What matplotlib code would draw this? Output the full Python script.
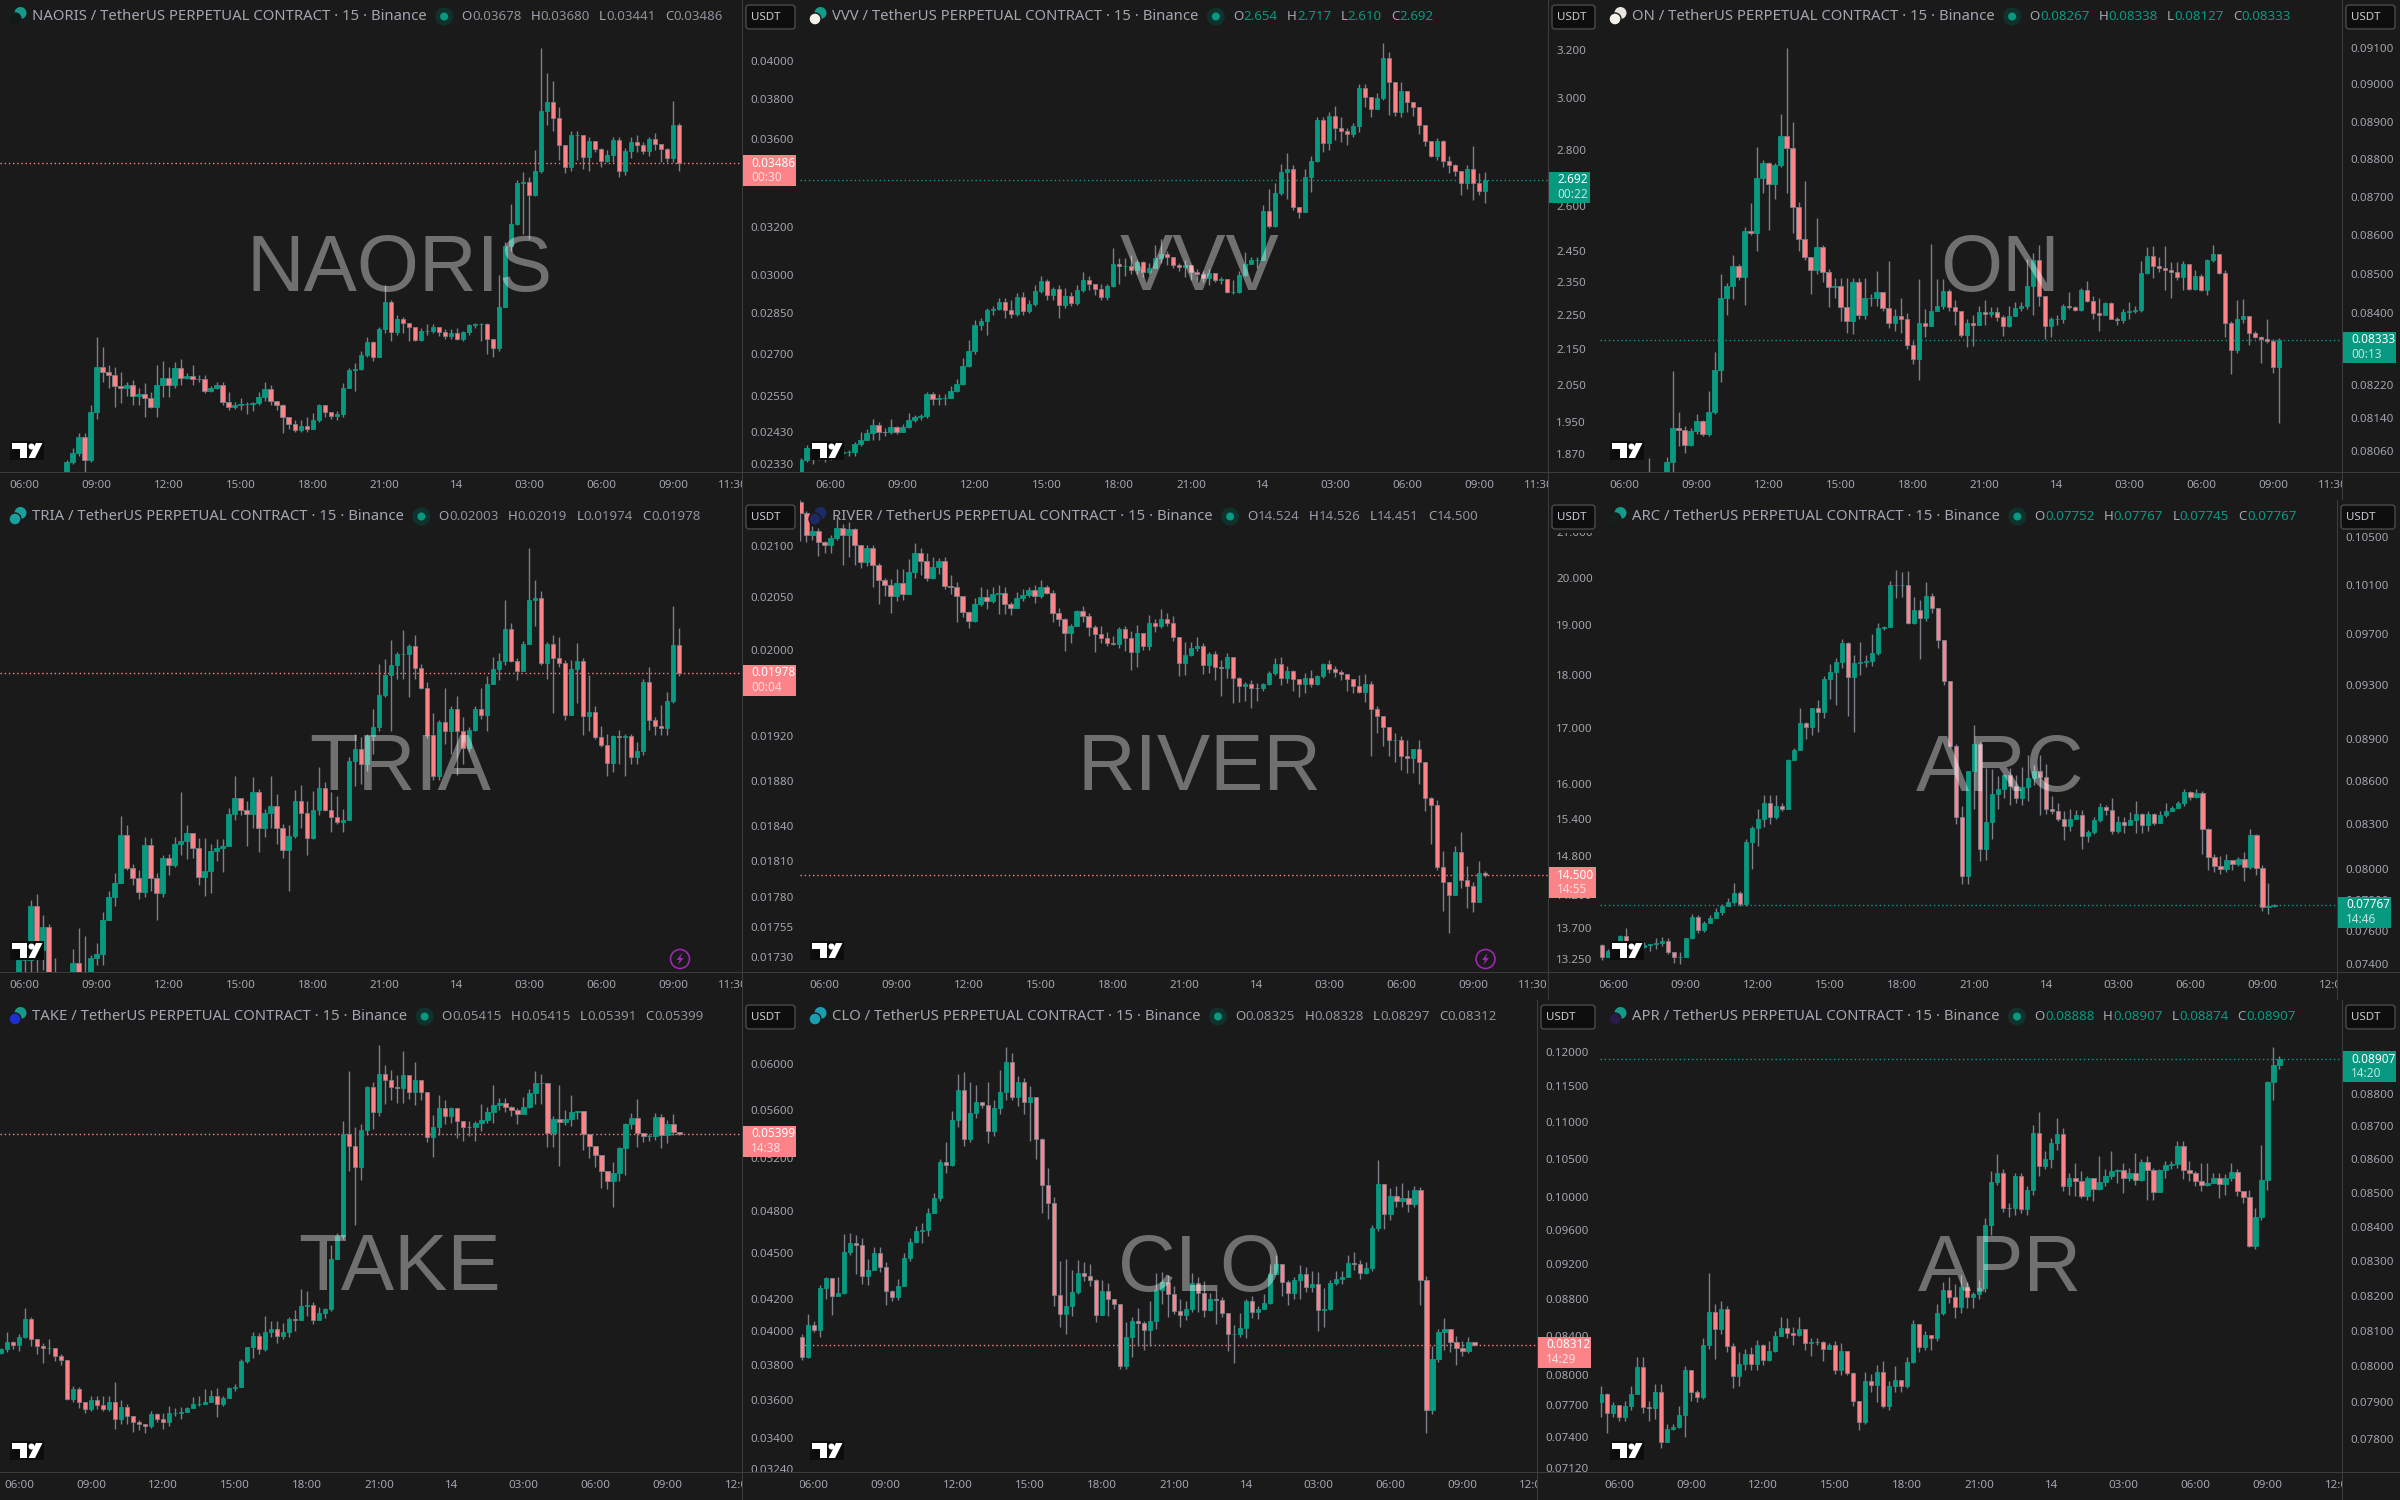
import numpy as np
import matplotlib
matplotlib.use("Agg")
import matplotlib.pyplot as plt
from matplotlib.patches import Rectangle, Circle, Polygon, FancyBboxPatch
from matplotlib.transforms import Affine2D, Bbox
from matplotlib.ticker import NullLocator, NullFormatter

# closes start with the open of the first candle, so opens = previous close
# prices are in whole units of the last shown digit
naoris_close = [2290,
    2334,2365,2416,2340,2496,2654,2635,2623,2584,2580,
    2590,2552,2558,2543,2515,2590,2614,2590,2650,2614,
    2622,2610,2610,2570,2578,2590,2532,2513,2520,2525,
    2525,2527,2549,2574,2535,2520,2480,2458,2438,2452,
    2442,2472,2519,2497,2485,2491,2580,2643,2647,2695,
    2741,2690,2790,2895,2781,2830,2815,2800,2750,2783,
    2783,2800,2780,2765,2775,2755,2779,2805,2808,2810,
    2755,2720,2875,3120,3215,3397,3400,3340,3452,3740,
    3785,3705,3570,3470,3620,3620,3515,3590,3555,3495,
    3525,3595,3452,3543,3585,3570,3545,3600,3575,3555,
    3510,3670,3486]
naoris_high = [
    2340,2378,2427,2427,2519,2760,2724,2660,2654,2635,
    2600,2605,2580,2595,2565,2660,2673,2654,2672,2680,
    2630,2660,2625,2625,2585,2600,2600,2565,2530,2545,
    2530,2530,2565,2600,2590,2530,2525,2480,2470,2470,
    2480,2495,2525,2505,2495,2500,2595,2650,2665,2710,
    2760,2745,2800,2960,2900,2845,2835,2810,2790,2795,
    2810,2810,2800,2790,2790,2795,2785,2810,2815,2815,
    2815,2755,3000,3135,3300,3410,3445,3420,3550,4070,
    3935,3890,3760,3530,3640,3640,3620,3610,3575,3560,
    3550,3610,3610,3560,3610,3620,3585,3610,3630,3570,
    3560,3790,3680]
naoris_low = [
    2280,2330,2355,2305,2335,2475,2598,2580,2515,2528,
    2550,2522,2522,2480,2512,2482,2548,2548,2580,2590,
    2610,2590,2600,2560,2565,2575,2520,2505,2508,2505,
    2490,2500,2520,2535,2522,2505,2427,2440,2432,2432,
    2430,2445,2465,2480,2475,2470,2480,2580,2570,2640,
    2690,2675,2690,2775,2745,2770,2775,2745,2745,2745,
    2770,2775,2765,2755,2755,2750,2745,2770,2795,2745,
    2700,2690,2710,2880,3100,3210,3170,3150,3335,3440,
    3670,3640,3500,3440,3450,3500,3460,3450,3540,3470,
    3490,3490,3420,3430,3510,3540,3530,3520,3550,3490,
    3490,3490,3450]

vvv_close = [1824,
    1854,1885,1858,1884,1862,1862,1872,1873,1873,1894,
    1905,1923,1944,1926,1924,1938,1924,1938,1957,1963,
    1965,2024,2011,2013,2015,2032,2052,2102,2144,2219,
    2232,2264,2266,2288,2264,2252,2304,2262,2282,2322,
    2352,2310,2327,2280,2308,2286,2325,2357,2343,2329,
    2303,2337,2407,2400,2400,2387,2414,2383,2394,2425,
    2440,2428,2403,2396,2403,2380,2375,2362,2377,2357,
    2358,2318,2320,2373,2408,2419,2420,2583,2532,2644,
    2719,2731,2597,2580,2703,2759,2914,2827,2930,2884,
    2872,2860,2891,3041,3005,2960,3000,3165,3067,2948,
    3030,2986,2965,2895,2836,2780,2834,2762,2745,2725,
    2682,2730,2682,2654,2692]
vvv_high = [
    1860,1893,1890,1890,1875,1870,1876,1880,1878,1900,
    1925,1932,1958,1950,1935,1958,1940,1945,1975,1970,
    1972,2030,2030,2025,2025,2045,2065,2125,2175,2235,
    2240,2270,2275,2300,2300,2295,2315,2320,2295,2340,
    2370,2360,2335,2340,2330,2320,2340,2380,2370,2345,
    2345,2345,2460,2425,2425,2435,2420,2415,2410,2470,
    2490,2450,2420,2410,2420,2400,2390,2385,2390,2375,
    2365,2340,2355,2385,2445,2430,2430,2605,2660,2680,
    2750,2790,2745,2590,2730,2780,2925,2925,2945,2970,
    2925,2885,2905,3060,3060,3005,3020,3230,3190,3065,
    3065,3015,2985,2905,2875,2820,2845,2840,2780,2750,
    2725,2745,2815,2715,2720]
vvv_low = [
    1820,1850,1845,1855,1850,1855,1860,1868,1865,1865,
    1890,1905,1905,1905,1915,1920,1920,1925,1935,1950,
    1955,1960,1995,1995,1995,2015,2030,2050,2100,2135,
    2205,2190,2250,2265,2240,2240,2245,2250,2255,2275,
    2315,2295,2295,2240,2270,2275,2280,2320,2325,2310,
    2295,2295,2335,2345,2370,2375,2375,2365,2375,2395,
    2410,2405,2395,2385,2365,2355,2355,2350,2340,2350,
    2345,2315,2312,2315,2370,2410,2395,2420,2525,2530,
    2640,2625,2585,2560,2590,2650,2755,2795,2800,2840,
    2830,2820,2850,2870,2965,2925,2960,2995,2935,2930,
    2925,2945,2930,2860,2815,2775,2765,2740,2715,2705,
    2640,2660,2620,2640,2610]

on_close = [7970,
    7990,7990,7995,8032,8115,8111,8073,8107,8131,8100,
    8153,8258,8440,8470,8521,8492,8611,8605,8750,8790,
    8733,8783,8860,8830,8673,8590,8545,8510,8570,8505,
    8466,8470,8417,8380,8481,8397,8440,8440,8455,8413,
    8377,8393,8385,8320,8285,8375,8367,8405,8418,8456,
    8415,8407,8345,8377,8371,8403,8398,8403,8390,8367,
    8393,8413,8420,8470,8537,8443,8368,8385,8385,8420,
    8417,8408,8460,8432,8402,8397,8427,8387,8383,8403,
    8405,8408,8503,8547,8520,8515,8510,8506,8492,8525,
    8461,8495,8459,8537,8552,8502,8377,8308,8385,8393,
    8350,8340,8335,8330,8265,8333]
on_high = [
    8043,8005,8000,8045,8255,8153,8120,8115,8150,8135,
    8207,8302,8500,8478,8550,8525,8622,8683,8832,8797,
    8792,8790,8920,9100,8898,8687,8743,8528,8645,8575,
    8512,8490,8490,8490,8490,8490,8490,8450,8507,8445,
    8535,8410,8440,8400,8330,8487,8412,8577,8487,8487,
    8462,8435,8407,8385,8395,8420,8435,8415,8415,8395,
    8420,8430,8430,8540,8555,8575,8445,8390,8395,8425,
    8455,8420,8465,8483,8445,8440,8430,8430,8390,8410,
    8430,8420,8535,8570,8572,8545,8572,8530,8530,8535,
    8470,8510,8500,8540,8575,8505,8510,8380,8435,8437,
    8393,8355,8342,8385,8335,8338]
on_low = [
    7960,7960,7970,7990,8006,8070,8055,8071,8100,8095,
    8095,8150,8228,8395,8437,8485,8422,8600,8560,8710,
    8615,8695,8780,8710,8606,8560,8537,8450,8500,8480,
    8417,8440,8380,8350,8348,8387,8387,8420,8420,8405,
    8362,8355,8350,8310,8272,8232,8340,8370,8405,8410,
    8405,8370,8340,8315,8318,8370,8370,8390,8380,8343,
    8365,8400,8405,8410,8395,8420,8335,8340,8370,8375,
    8410,8405,8405,8430,8385,8355,8395,8385,8370,8375,
    8385,8400,8403,8500,8490,8505,8460,8440,8485,8460,
    8459,8459,8457,8447,8530,8500,8340,8248,8300,8375,
    8320,8337,8275,8325,8250,8127]

tria_close = [1700,
    1728,1728,1772,1736,1755,1715,1705,1700,1700,1725,
    1712,1710,1729,1733,1761,1780,1792,1833,1804,1796,
    1784,1824,1796,1783,1813,1807,1825,1827,1834,1821,
    1797,1802,1819,1821,1823,1851,1865,1854,1851,1870,
    1839,1852,1858,1839,1820,1832,1862,1852,1830,1854,
    1874,1854,1848,1844,1846,1898,1908,1895,1920,1928,
    1958,1976,1985,1996,1996,2003,1983,1964,1921,1884,
    1933,1925,1945,1925,1909,1926,1945,1939,1968,1982,
    1989,2019,1989,1980,2005,2047,2049,1987,2005,1992,
    1987,1939,1982,1989,1938,1942,1919,1912,1896,1920,
    1919,1920,1901,1907,1970,1935,1929,1927,1952,2004,
    1978]
tria_high = [
    1735,1735,1777,1782,1765,1757,1729,1710,1710,1737,
    1754,1747,1732,1742,1767,1785,1800,1849,1841,1808,
    1803,1831,1830,1800,1815,1816,1831,1870,1841,1826,
    1830,1830,1825,1829,1829,1856,1884,1865,1862,1883,
    1873,1855,1884,1868,1842,1841,1872,1876,1862,1871,
    1892,1879,1870,1867,1855,1901,1922,1919,1922,1945,
    1986,1991,2009,1998,2018,2005,2014,1986,1970,1941,
    1935,1964,1947,1957,1937,1928,1947,1964,1975,1993,
    1997,2047,2025,1992,2008,2098,2067,2056,2007,2014,
    2012,1990,1990,2006,1992,1976,1947,1929,1922,1921,
    1926,1922,1922,1915,1972,1984,1937,1948,1960,2041,
    2020]
tria_low = [
    1690,1700,1705,1700,1720,1690,1695,1690,1690,1700,
    1700,1695,1700,1724,1724,1770,1772,1793,1803,1790,
    1778,1780,1785,1761,1780,1798,1805,1815,1812,1813,
    1790,1781,1783,1810,1801,1823,1846,1850,1823,1839,
    1818,1831,1839,1825,1813,1785,1830,1839,1815,1829,
    1850,1853,1835,1842,1835,1846,1875,1877,1889,1904,
    1925,1956,1925,1972,1972,1956,1972,1963,1918,1881,
    1881,1913,1904,1885,1895,1907,1925,1936,1925,1968,
    1971,1985,1988,1971,1980,2005,2022,1985,1972,1941,
    1984,1935,1939,1950,1921,1925,1917,1910,1884,1888,
    1895,1884,1895,1895,1903,1926,1921,1921,1921,1950,
    1975]

river_close = [21700,
    21440,20950,21040,20780,20710,20870,21100,20940,21090,20710,
    20340,20660,20270,19940,19845,19600,19880,19650,20120,20530,
    20360,20000,20240,20370,19810,19800,19600,19280,19085,19440,
    19580,19510,19640,19670,19430,19360,19560,19620,19740,19600,
    19800,19680,19260,19130,18840,18990,19290,19180,18960,18810,
    18730,18630,18620,18910,18730,18460,18830,18580,19050,18980,
    19120,19035,18750,18240,18400,18540,18580,18200,18420,18160,
    18140,18360,17940,17790,17825,17760,17755,17820,18050,18210,
    17940,18090,17920,17820,17940,17820,17990,18220,18110,18070,
    18025,17925,17790,17680,17820,17360,17220,17010,16790,16790,
    16500,16460,16610,16390,15770,15640,14630,14400,14200,14870,
    14420,14330,14080,14530,14500]
river_high = [
    21750,21500,21150,21100,20800,20950,21350,21200,21250,21100,
    20720,20720,20720,20320,19990,19960,20190,20180,20400,20770,
    20650,20550,20450,20430,20450,20050,19900,19600,19300,19570,
    19800,19760,19800,19850,19790,19480,19700,19750,19800,19850,
    19950,19850,19730,19350,19150,19030,19320,19400,19250,19000,
    18990,18850,18780,18970,18980,18870,19000,18840,19200,19130,
    19330,19250,19180,18690,18650,18650,18760,18640,18460,18480,
    18300,18430,18340,17960,17860,17900,17840,17850,18090,18330,
    18350,18180,18100,17930,18050,18100,18000,18240,18290,18180,
    18100,17980,17930,18000,18020,17880,17400,17220,16900,16900,
    16850,16780,16620,16780,16380,15780,15720,14880,14350,14970,
    15200,14650,14400,14720,14560]
river_low = [
    20800,20780,20840,20480,20550,20530,20830,20280,20450,20280,
    20200,20260,19800,19440,19600,19250,19500,19530,19650,20000,
    20050,19930,19970,20070,19750,19650,19060,19160,18950,19060,
    19400,19340,19450,19230,19230,19200,19350,19500,19580,19450,
    19560,19650,19060,18980,18470,18630,18980,19060,18780,18450,
    18630,18570,18600,18540,18480,18100,18150,18500,18500,18850,
    18950,18980,18680,17980,18000,18380,18470,18020,18050,17900,
    17600,17950,17470,17480,17500,17380,17500,17700,17800,18000,
    17800,17850,17700,17570,17650,17780,17800,17950,18050,17970,
    17900,17700,17650,17650,17480,16490,16900,16680,16500,16390,
    16250,16200,16200,16000,15540,15000,14580,13950,13620,14380,
    14300,14000,13930,14450,14470]

arc_close = [7515,
    7440,7475,7485,7568,7520,7510,7500,7515,7518,7526,
    7537,7472,7440,7442,7555,7692,7605,7650,7680,7718,
    7760,7782,7840,7770,8180,8270,8335,8440,8345,8425,
    8400,8750,8820,9013,8990,9130,9100,9350,9400,9480,
    9632,9360,9470,9480,9487,9550,9750,9752,10095,10100,
    10100,9790,9893,9830,10005,9907,9650,9330,8850,8345,
    7950,8665,8860,8130,8310,8505,8540,8640,8560,8480,
    8555,8615,8670,8625,8400,8385,8335,8285,8335,8360,
    8220,8245,8325,8415,8395,8255,8315,8290,8325,8370,
    8290,8365,8305,8360,8385,8410,8440,8520,8485,8515,
    8265,8080,8020,8000,8055,8030,8065,8010,8225,8008,
    7755,7757,7767]
arc_high = [
    7520,7490,7500,7575,7620,7540,7520,7535,7522,7555,
    7565,7555,7450,7470,7560,7710,7705,7665,7700,7745,
    7775,7810,7905,7855,8200,8285,8405,8500,8500,8500,
    8440,8755,8835,9125,9025,9130,9185,9370,9465,9510,
    9660,9640,9530,9640,9535,9700,9790,9765,10130,10220,
    10205,10210,10000,9970,10125,10030,9700,9600,9190,8860,
    8420,8670,9000,8880,8690,8680,8630,8650,8690,8640,
    8700,8780,8710,8780,8720,8490,8440,8390,8400,8395,
    8395,8260,8345,8440,8430,8480,8355,8350,8380,8460,
    8375,8385,8375,8385,8445,8420,8455,8540,8530,8540,
    8530,8275,8100,8085,8100,8060,8075,8110,8265,8230,
    8025,7905,7775]
arc_low = [
    7420,7440,7450,7500,7510,7490,7490,7495,7480,7490,
    7510,7460,7405,7400,7440,7550,7590,7595,7650,7680,
    7700,7760,7770,7760,7760,8000,8150,8280,8300,8330,
    8390,8400,8750,8880,8900,8925,8950,9050,9195,9150,
    9435,9070,8950,9380,9440,9450,9530,9730,9760,9990,
    10000,9780,9780,9500,9800,9870,9590,9300,8840,8300,
    7900,7900,8400,8050,8055,8200,8400,8480,8430,8440,
    8430,8460,8570,8360,8370,8370,8320,8190,8250,8340,
    8130,8180,8230,8310,8360,8230,8240,8240,8290,8240,
    8240,8250,8290,8310,8350,8395,8420,8425,8465,8480,
    8100,7990,7980,7965,7980,7990,8020,7920,8000,7960,
    7730,7710,7750]

take_close = [3866,
    3890,3933,3913,3960,4070,3950,3906,3895,3896,3848,
    3826,3608,3660,3587,3550,3600,3575,3553,3591,3500,
    3565,3513,3480,3470,3460,3522,3500,3482,3530,3530,
    3535,3558,3580,3580,3590,3625,3578,3612,3668,3670,
    3820,3900,3970,3890,3995,4010,3970,3990,4070,4068,
    4155,4160,4065,4113,4135,4460,4620,5399,5295,5130,
    5433,5800,5580,5915,5855,5795,5785,5900,5750,5860,
    5750,5373,5455,5610,5545,5610,5503,5452,5450,5490,
    5510,5582,5640,5660,5622,5595,5565,5625,5740,5835,
    5835,5403,5520,5498,5520,5582,5585,5399,5295,5230,
    5100,5020,5085,5280,5475,5530,5405,5380,5380,5535,
    5385,5475,5410,5399]
take_high = [
    3895,3990,3940,3980,4140,4085,3950,3925,3950,3880,
    3860,3826,3680,3670,3580,3625,3625,3625,3620,3700,
    3600,3580,3515,3490,3470,3540,3530,3530,3570,3555,
    3560,3565,3615,3620,3660,3655,3665,3625,3675,3690,
    3830,3905,3990,3985,4090,4060,4060,4045,4085,4130,
    4260,4250,4180,4150,4140,4560,4640,5500,5940,5450,
    5480,5805,5840,6180,5990,5950,5900,6120,5890,6020,
    5770,5750,5555,5730,5680,5620,5590,5480,5500,5500,
    5650,5620,5810,5700,5700,5630,5610,5710,5780,5940,
    5910,5830,5550,5810,5600,5730,5590,5590,5340,5265,
    5160,5040,5170,5290,5490,5570,5690,5400,5400,5570,
    5560,5510,5560,5410]
take_low = [
    3860,3875,3890,3880,3955,3910,3860,3810,3860,3820,
    3800,3600,3590,3555,3530,3540,3550,3540,3540,3445,
    3470,3470,3430,3440,3425,3450,3480,3445,3460,3515,
    3500,3545,3555,3570,3580,3590,3510,3570,3610,3650,
    3670,3810,3840,3860,3880,3960,3925,3950,3965,4000,
    4065,4090,4040,4070,4080,4125,4460,4600,5100,4700,
    5030,5390,5440,5550,5650,5680,5660,5660,5690,5640,
    5680,5330,5210,5390,5480,5490,5360,5340,5380,5340,
    5420,5490,5490,5600,5580,5550,5480,5560,5615,5650,
    5650,5290,5290,5140,5470,5460,5520,5270,5200,5130,
    4970,4960,4830,5020,5070,5440,5290,5330,5340,5350,
    5280,5320,5390,5390]

clo_close = [8395,
    8180,8520,8465,8923,9035,8835,8865,9340,9440,9420,
    9065,9130,9320,9165,8895,8820,8950,9265,9455,9590,
    9600,9810,9990,10455,10420,11025,11440,10760,11115,11275,
    11235,10875,11185,11415,11860,11350,11560,11270,11350,10760,
    10155,9925,8850,8635,8725,8880,9090,9065,9010,8625,
    8890,8800,8750,8095,8395,8560,8535,8460,8565,8905,
    8995,8860,8665,8625,8690,8975,8865,8685,8800,8790,
    8650,8420,8425,8490,8775,8660,8695,8755,9085,9195,
    8995,8870,9015,9080,8935,8965,8680,8690,8985,9020,
    9045,9205,9200,9095,9155,9625,10170,9790,10020,9950,
    9995,9915,10095,9010,7660,8165,8440,8480,8340,8280,
    8240,8335,8312]
clo_high = [
    8420,8640,8560,8960,9050,9040,9050,9550,9560,9540,
    9500,9260,9400,9400,9220,8900,9020,9330,9500,9650,
    9680,9870,10050,10500,10720,11150,11680,11700,11560,11520,
    11280,11560,11300,11740,12080,11990,11650,11620,11500,11000,
    10770,10370,10000,9230,9250,9130,9240,9220,9200,9020,
    9010,8980,8800,8430,8550,8600,8700,8560,8780,9090,
    9110,9070,8950,8800,8780,9090,9050,9000,8870,8900,
    8820,8560,8520,8650,8800,8840,8720,8860,9200,9300,
    9190,9010,9050,9180,9160,9120,9110,8920,9010,9120,
    9120,9300,9340,9240,9220,9660,10480,10170,10120,10150,
    10180,10090,10150,10130,9060,8300,8480,8590,8460,8400,
    8350,8390,8325]
clo_low = [
    8150,8170,8440,8390,8800,8630,8830,8860,9300,9080,
    8970,8960,9130,9100,8730,8780,8790,8950,9230,9440,
    9440,9530,9810,9950,10310,10400,10920,10670,10720,11050,
    11190,10710,10800,11100,11300,11300,11220,11100,10730,10500,
    9810,9730,8720,8500,8420,8620,8860,9000,8950,8550,
    8650,8620,8690,8060,8060,8180,8300,8260,8300,8480,
    8750,8600,8640,8500,8570,8660,8660,8600,8670,8530,
    8600,8240,8120,8390,8380,8590,8580,8690,8750,9090,
    8830,8730,8800,8800,8880,8880,8450,8500,8680,8960,
    8970,9090,9130,9030,9080,9120,9590,9610,9720,9880,
    9880,9820,9880,8740,7440,7620,8130,8260,8230,8100,
    8190,8220,8300]

apr_close = [7900,
    7923,7870,7893,7860,7889,7923,7998,7887,7884,7930,
    7792,7826,7832,7866,7990,7930,7914,8060,8153,8104,
    8161,8058,7972,8007,8036,8007,8060,8018,8042,8085,
    8107,8093,8089,8105,8066,8069,8068,8050,8059,7989,
    8043,7981,7903,7847,7960,7949,7983,7889,7946,7963,
    7945,8013,8119,8055,8088,8079,8150,8217,8195,8168,
    8224,8197,8205,8221,8404,8533,8560,8456,8455,8550,
    8453,8508,8680,8580,8601,8650,8677,8520,8544,8535,
    8491,8544,8512,8533,8550,8566,8568,8544,8560,8538,
    8591,8567,8503,8568,8584,8585,8641,8567,8559,8535,
    8524,8529,8544,8526,8544,8561,8506,8487,8345,8430,
    8539,8835,8888,8907]
apr_high = [
    7945,7925,7900,7870,7905,7945,8025,8025,7905,7950,
    7950,7840,7840,7890,8000,7955,7935,8080,8265,8175,
    8185,8170,8065,8040,8050,8055,8075,8062,8070,8100,
    8140,8135,8110,8140,8095,8080,8080,8070,8065,8070,
    8065,8000,7985,7860,7985,7980,8005,8015,7960,8000,
    7960,8025,8130,8120,8100,8085,8175,8240,8255,8235,
    8260,8240,8210,8245,8425,8565,8615,8570,8470,8560,
    8560,8520,8705,8745,8625,8665,8725,8695,8560,8590,
    8565,8550,8545,8610,8570,8625,8570,8590,8575,8620,
    8600,8610,8575,8570,8595,8595,8655,8655,8595,8565,
    8590,8590,8560,8560,8555,8590,8570,8505,8510,8455,
    8645,8840,8945,8918]
apr_low = [
    7860,7815,7860,7850,7850,7880,7925,7870,7850,7855,
    7775,7790,7825,7830,7805,7905,7900,7910,8050,8020,
    8090,8040,7940,7945,7990,7990,7990,8005,8015,8040,
    8085,8080,8060,8085,8045,8030,8060,8015,8050,7980,
    7975,7975,7890,7825,7840,7930,7900,7885,7880,7930,
    7930,7940,8010,8040,8045,8045,8070,8145,8180,8135,
    8150,8165,8165,8190,8210,8375,8525,8445,8430,8435,
    8440,8435,8495,8550,8570,8575,8630,8505,8495,8490,
    8485,8480,8475,8510,8520,8540,8530,8500,8535,8525,
    8535,8480,8480,8515,8545,8570,8575,8540,8535,8520,
    8505,8520,8530,8485,8495,8535,8490,8470,8340,8335,
    8420,8510,8780,8875]

symbols = ["NAORIS", "VVV", "ON", "TRIA", "RIVER", "ARC", "TAKE", "CLO", "APR"]
ohlc = [("0.03678", "0.03680", "0.03441", "0.03486"), ("2.654", "2.717", "2.610", "2.692"),
        ("0.08267", "0.08338", "0.08127", "0.08333"), ("0.02003", "0.02019", "0.01974", "0.01978"),
        ("14.524", "14.526", "14.451", "14.500"), ("0.07752", "0.07767", "0.07745", "0.07767"),
        ("0.05415", "0.05415", "0.05391", "0.05399"), ("0.08325", "0.08328", "0.08297", "0.08312"),
        ("0.08888", "0.08907", "0.08874", "0.08907")]
last_up = [False, True, True, False, False, True, False, False, True]
last_price = [0.03486, 2.692, 0.08333, 0.01978, 14.5, 0.07767, 0.05399, 0.08312, 0.08907]
countdown = ["00:30", "00:22", "00:13", "00:04", "14:55", "14:46", "14:38", "14:29", "14:20"]
price_top = [0.04339, 3.42, 0.09232, 0.02146, 21.75, 0.10827, 0.06616, 0.12815, 0.09093]
price_bottom = [0.02304, 1.825, 0.08008, 0.01718, 13.06, 0.0735, 0.03227, 0.07082, 0.0771]
yticks = [
    ["0.04000", "0.03800", "0.03600", "0.03200", "0.03000", "0.02850", "0.02700", "0.02550", "0.02430", "0.02330"],
    ["3.200", "3.000", "2.800", "2.600", "2.450", "2.350", "2.250", "2.150", "2.050", "1.950", "1.870"],
    ["0.09100", "0.09000", "0.08900", "0.08800", "0.08700", "0.08600", "0.08500", "0.08400", "0.08220", "0.08140", "0.08060"],
    ["0.02100", "0.02050", "0.02000", "0.01960", "0.01920", "0.01880", "0.01840", "0.01810", "0.01780", "0.01755", "0.01730"],
    ["21.000", "20.000", "19.000", "18.000", "17.000", "16.000", "15.400", "14.800", "14.200", "13.700", "13.250"],
    ["0.10500", "0.10100", "0.09700", "0.09300", "0.08900", "0.08600", "0.08300", "0.08000", "0.07800", "0.07600", "0.07400"],
    ["0.06000", "0.05600", "0.05200", "0.04800", "0.04500", "0.04200", "0.04000", "0.03800", "0.03600", "0.03400", "0.03240"],
    ["0.12000", "0.11500", "0.11000", "0.10500", "0.10000", "0.09600", "0.09200", "0.08800", "0.08400", "0.08000", "0.07700", "0.07400", "0.07120"],
    ["0.08800", "0.08700", "0.08600", "0.08500", "0.08400", "0.08300", "0.08200", "0.08100", "0.08000", "0.07900", "0.07800"],
]
time_labels = ["06:00", "09:00", "12:00", "15:00", "18:00", "21:00", "14", "03:00", "06:00", "09:00"]
last_time = ["11:30", "11:30", "11:30", "11:30", "11:30", "12:00", "12:00", "12:00", "12:00"]

# close, high, low, first candle index (15 min bars after 06:00), price unit
series = {
    "NAORIS": (naoris_close, naoris_high, naoris_low, 7, 1e-5),
    "VVV": (vvv_close, vvv_high, vvv_low, -5, 1e-3),
    "ON": (on_close, on_high, on_low, 4, 1e-5),
    "TRIA": (tria_close, tria_high, tria_low, -1, 1e-5),
    "RIVER": (river_close, river_high, river_low, -4, 1e-3),
    "ARC": (arc_close, arc_high, arc_low, -2, 1e-5),
    "TAKE": (take_close, take_high, take_low, -3, 1e-5),
    "CLO": (clo_close, clo_high, clo_low, -2, 1e-5),
    "APR": (apr_close, apr_high, apr_low, -3, 1e-5),
}

# layout in reference pixels
panel_left = [0, 800, 1600, 0, 800, 1600, 0, 800, 1600]
chart_w = [742, 748, 742, 742, 748, 737, 742, 737, 742]
t0_x = [24.5, 30.6, 24.5, 24.5, 24.5, 13.8, 18.9, 13.8, 18.9]
tag_w = [53, 41, 53, 53, 47, 53, 53, 53, 53]
logo_colors = [("#159a8c", "#101a16"), ("#159a8c", "#f4f0ec"), ("#e8e4e0", "#f4f0ec"),
               ("#18a0a0", "#18a0a0"), ("#1c2a66", "#1c2a66"), ("#159a8c", "#15201c"),
               ("#159a8c", "#1f2fd0"), ("#1a9fb0", "#1a9fb0"), ("#159a8c", "#2a1c4a")]

BG = "#1a1a1a"
GREEN = "#089981"
RED = "#fc8388"
WICK = "#7d7f88"
TEXT = "#a3a6af"
AXIS = "#3c3c3c"

plt.rcParams["font.family"] = ["Noto Sans", "DejaVu Sans"]
fig = plt.figure(figsize=(24, 15), dpi=100, facecolor=BG)
px = Affine2D().scale(1, -1).translate(0, 1500)
renderer = fig.canvas.get_renderer()


def ptext(x, y, s, **kw):
    kw.setdefault("va", "center")
    kw.setdefault("zorder", 12)
    return fig.text(x, y, s, transform=px, **kw)


def add(patch, z=10):
    patch.set_transform(px)
    patch.set_zorder(z)
    fig.add_artist(patch)
    return patch


for i, sym in enumerate(symbols):
    left = panel_left[i]
    top = 500 * (i // 3)
    w = chart_w[i]
    right = left + w
    ax = fig.add_axes([left / 2400, 1 - (top + 472) / 1500, w / 2400, 472 / 1500], facecolor=BG)
    ax.set_yscale("log")
    ax.set_xlim(-t0_x[i] / 6.005, (w - t0_x[i]) / 6.005)

    close, high, low, first, unit = series[sym]
    c = np.array(close) * unit
    o = c[:-1]
    c = c[1:]
    h = np.maximum(np.array(high) * unit, np.maximum(o, c))
    l = np.minimum(np.array(low) * unit, np.minimum(o, c))
    t = first + np.arange(len(c))
    up = c >= o
    ax.vlines(t, l, h, color=WICK, lw=1, zorder=2)
    ax.bar(t[up], (c - o)[up], bottom=o[up], width=0.74, color=GREEN, edgecolor=GREEN, lw=0.6, zorder=3)
    ax.bar(t[~up], (o - c)[~up], bottom=c[~up], width=0.74, color=RED, edgecolor=WICK, lw=0.6, zorder=3)

    ax.set_ylim(price_bottom[i], price_top[i])
    col = GREEN if last_up[i] else RED
    ax.axhline(last_price[i], color=col, lw=1, ls=(0, (1, 2)), zorder=1)

    ax.yaxis.tick_right()
    ax.yaxis.set_minor_locator(NullLocator())
    ax.yaxis.set_minor_formatter(NullFormatter())
    ax.set_yticks([float(v) for v in yticks[i]], yticks[i])
    ax.tick_params(axis="y", length=0, pad=6, labelsize=8.3, labelcolor=TEXT)
    ybox = Bbox([[right, 1500 - top - 472], [left + 800, 1500 - top - 33]])
    for lab in ax.get_yticklabels():
        lab.set_clip_on(True)
        lab.set_clip_box(ybox)

    ticks = list(range(0, 120, 12)) + [118 if last_time[i] == "11:30" else 120]
    ax.set_xticks(ticks, time_labels + [last_time[i]])
    ax.tick_params(axis="x", length=0, pad=6, labelsize=8.3, labelcolor=TEXT)
    xbox = Bbox([[left, 1500 - top - 500], [right, 1500 - top - 472]])
    for lab in ax.get_xticklabels():
        lab.set_clip_on(True)
        lab.set_clip_box(xbox)

    for s in ax.spines.values():
        s.set_visible(False)
    ax.spines["right"].set_visible(True)
    ax.spines["right"].set_color(AXIS)
    add(Rectangle((left, top + 472), 800, 1, fc=AXIS, ec="none"), 5)
    add(Rectangle((right, top + 472), 1, 28, fc=AXIS, ec="none"), 5)

    # watermark sits over the candles
    ptext(left + 400, top + 270, sym, ha="center", family="Liberation Sans", fontsize=57.5,
          color="white", alpha=0.38, zorder=8)

    # logo
    add(Circle((left + 20.5, top + 13), 6, fc=logo_colors[i][0], ec="none"))
    add(Circle((left + 15, top + 19), 6, fc=logo_colors[i][1], ec=BG, lw=1), 11)

    # header
    x = left + 31.5
    t1 = ptext(x, top + 16.5, f"{sym} / TetherUS PERPETUAL CONTRACT · 15 · Binance", color=TEXT, fontsize=10.7)
    x = t1.get_window_extent(renderer).x1 + 18
    add(Circle((x, top + 16.5), 9, fc="#10312c", ec="none"))
    add(Circle((x, top + 16.5), 4, fc=GREEN, ec="none"), 11)
    x += 17
    for letter, val in zip("OHLC", ohlc[i]):
        t1 = ptext(x, top + 16.5, letter, color=TEXT, fontsize=9.6)
        x = t1.get_window_extent(renderer).x1 + 0.5
        t1 = ptext(x, top + 16.5, val, color=GREEN if last_up[i] else "#8f9199", fontsize=9.6)
        x = t1.get_window_extent(renderer).x1 + 9

    # USDT box
    bx = right + 4
    add(FancyBboxPatch((bx, top + 5), left + 795 - bx, 24, boxstyle="round,pad=0,rounding_size=3",
                       fc="#0e0e0e", ec="#4a4a4a", lw=1), 11)
    ptext(bx + 5, top + 17, "USDT", color="#c9cbd2", fontsize=8.3, zorder=13)

    # last price tag
    py = 1500 - ax.transData.transform((0, last_price[i]))[1]
    add(Rectangle((right + 1, py - 8), tag_w[i], 31, fc=col, ec="none"), 11)
    label = f"{last_price[i]:.3f}" if last_price[i] > 1 else f"{last_price[i]:.5f}"
    ptext(right + 9, py, label, color="white", fontsize=8.5, zorder=13)
    ptext(right + 9, py + 14.5, countdown[i], color="white", alpha=0.75, fontsize=8.5, zorder=13)

    # tradingview mark
    lx, ly = left, top
    add(Rectangle((lx + 10, ly + 441), 34, 19, fc="#0d0d0d", ec="none"), 9)
    add(Polygon([(lx + 12, ly + 443), (lx + 27, ly + 443), (lx + 27, ly + 458), (lx + 20, ly + 458),
                 (lx + 20, ly + 449), (lx + 12, ly + 449)], fc="white", ec="none"))
    add(Circle((lx + 31.5, ly + 446.5), 3, fc="white", ec="none"))
    add(Polygon([(lx + 36, ly + 443), (lx + 42.5, ly + 443), (lx + 35, ly + 458), (lx + 28.5, ly + 458)],
                fc="white", ec="none"))

# flash icons on the middle row
for cx, cy in [(680, 959), (1485.5, 959)]:
    add(Circle((cx, cy), 9.5, fc=BG, ec="#9c27b0", lw=1.2))
    add(Polygon([(cx + 2, cy - 6), (cx - 3.5, cy + 1), (cx - 0.5, cy + 1), (cx - 2, cy + 6),
                 (cx + 3.5, cy - 1), (cx + 0.5, cy - 1)], fc="#9c27b0", ec="none"), 11)

fig.savefig("out.png", dpi=100, facecolor=BG)
